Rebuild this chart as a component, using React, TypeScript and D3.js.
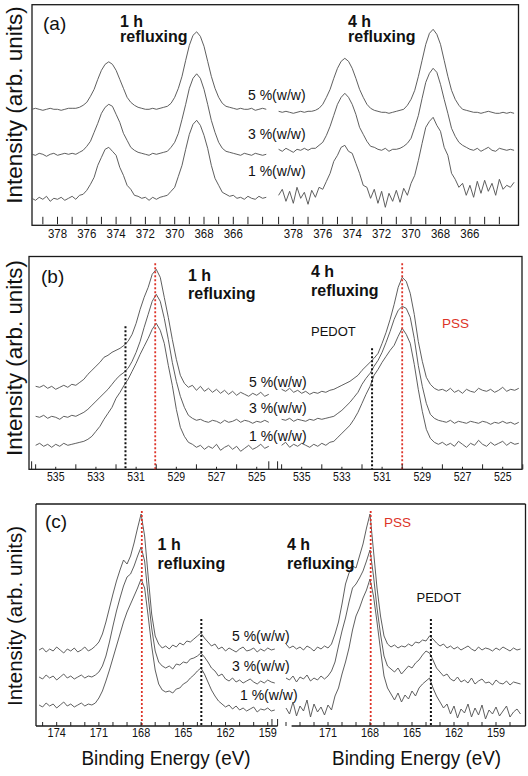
import React from "react";
import * as d3 from "d3";

// ================= DATA =================
// Panel (a): Ag 3d, intensity sampled every AG_STEP eV
const AG_STEP = 0.25;
const AG_1H_START = 379.75;
const AG_4H_START = 379.0;
const ag1h_5 = [116,117,116,115,116,117,116,116,115,116,117, 117,117,118,120,123,129,136,146,155,161,163.5,161,155,146,137,128,123,120,118,117,116, 116,117,116, 117,118,119,122,128,137,149,165,180,190,193.5,189,179,164,149,137,128,122,119,118,117, 116,117,116,116,117,115,116,117,116];
const ag1h_3 = [71,70,72,71,69,71,72,70,71,72,71, 72,71,73,75,79,84,93,102,112,118,121,119,111,103,92,85,78,75,73,72,71, 70,72,71, 72,73,74,78,83,92,106,121,137,147,151.5,147,136,121,105,93,83,77,74,73,72, 71,70,72,71,70,72,71,70,71];
const ag1h_1 = [27,25,28,26,29,24,27,26,28,25,27, 29,26,30,31,35,41,48,60,68,76,78,74,70,58,50,40,36,30,29,27,28, 25,28,26, 28,29,30,34,38,49,60,76,91,101,105,100,90,77,60,47,40,33,31,29,30, 27,28,26,29,27,26,29,27,28];
const ag4h_5 = [114,113,114,113,112,113,114,113, 114,114,115,117,121,128,136,147,157,164,167,164,157,147,136,128,121,117,115,114,113, 113,112,113, 114,115,116,120,126,135,149,165,181,192,196,191,181,165,149,135,126,120,116,115,114, 113,113,112,113,114,113,112,112,113,112,113,112];
const ag4h_3 = [76,74,77,75,73,76,75,77, 75,77,77,80,83,90,99,110,121,128,132,128,121,111,98,91,84,79,78,76,75, 77,74,76, 76,77,79,82,87,98,110,127,143,152,157,153,141,126,112,97,89,83,80,78,76, 75,77,74,76,78,75,74,77,76,75,76,75];
const ag4h_1 = [30,36,24,34,22,38,27,33, 21,35,28,38,36,44,52,64,70,78,80,74,72,62,52,40,38,27,36,22,34, 18,32,24, 35,23,37,30,42,50,65,82,98,104,108,100,94,78,70,52,46,38,42,30,40, 28,44,32,45,34,42,30,46,36,40,38,43];
const AG_TICKS = d3.range(364, 380);
const AG_TICK_LABELS = [378, 376, 374, 372, 370, 368, 366];

// Panel (b): O 1s
const O_STEP = 0.2;
const O_START = 536.0;
const o1h_5 = [83,82,84,81,83,80,82,84,82,85,84, 87,90,95,99,103,107,112,114,117,119, 121,124,128,135,146,160,172,182,195,200, 192,172,152,130,110,94,86,82,84,79, 83,78,81,77,80,76,79,75,78,74,77,75,73,76,74,77,73,75];
const o1h_3 = [53,52,54,51,53,52,50,53,52,54,53, 55,57,60,64,68,72,76,80,85,90, 94,97,101,108,117,128,142,155,168,175, 168,151,130,107,88,73,62,54,51,49, 50,48,47,49,48,46,49,47,48,50,47,49,48,46,48,47,49,47];
const o1h_1 = [24,26,23,25,22,25,23,26,24,25,26, 27,28,30,33,38,43,50,56,62,71, 77,84,90,98,106,115,123,131,140,146, 139,126,104,84,60,42,33,27,25,22, 24,20,23,21,25,19,22,24,20,23,18,21,24,20,22,25,21,23];
const o4h_5 = [80,78,81,77,79,76,78,75,77,76,78, 77,79,80,82,84,86,88,91,94,99, 103,107,111,116,126,137,150,165,182,192, 188,176,155,128,108,92,85,81,79,80, 78,81,77,79,76,80,78,77,81,79,78,80,77,79,82,78,80,79,81];
const o4h_3 = [50,49,51,48,50,49,48,50,49,51,50, 51,52,53,56,59,63,67,72,77,85, 91,96,103,109,117,127,138,150,159,163, 161,152,131,104,83,66,55,51,49,48, 47,49,46,48,47,46,48,47,46,48,47,45,47,46,48,46,47,45,47];
const o4h_1 = [24,27,22,25,23,26,24,22,25,23,26, 24,27,28,32,36,40,44,50,57,66, 75,83,94,100,107,113,119,124,133,141, 135,126,105,80,58,40,31,27,25,27, 24,26,23,28,25,22,26,24,29,25,23,27,24,26,28,24,27,25,26];
const O_TICKS_1H = d3.range(525, 537);
const O_TICKS_4H = d3.range(524, 537);
const O_TICK_LABELS = [535, 533, 531, 529, 527, 525];
const O_PSS = [530.05, 530.0];
const O_PSS_TOP = [206, 206];
const O_PEDOT = [531.53, 531.5];
const O_PEDOT_TOP = [143, 121];

// Panel (c): S 2p
const S_STEP = 0.25;
const S_1H_START = 175.25;
const S_4H_START = 174.0;
const s1h_5 = [76,78,74,77,75,79,76,73,77,75,78,74,76,79,75,77, 80,84,92,104,118,132,145,156,166,162,170,183,198,212,190,150,112,90,82,78, 80,77,81,79,83,81,85,84,87,90,93,88,84,80,82,77,79, 75,78,76,74,77,79,75,76,78,74,77,75,78,76,77];
const s1h_3 = [49,47,51,48,50,46,49,52,48,50,47,49,51,48,50,49, 51,54,60,70,84,100,115,128,140,149,152,160,170,179,165,130,98,75,64,60, 58,60,57,62,61,64,63,67,68,70,73,69,64,58,55,50,52, 47,45,48,44,46,43,45,47,44,42,45,43,46,44,43];
const s1h_1 = [21,19,23,20,22,18,21,24,20,22,19,21,23,20,22,21, 23,28,35,45,56,68,80,92,104,114,122,130,138,147,138,110,80,56,42,36, 34,35,33,37,38,42,44,48,51,55,58,52,44,36,30,25,22, 19,21,17,20,16,18,15,17,19,14,17,16,18,15,16];
const s4h_5 = [82,78,80,77,79,76,80,78,75,79,77,80, 78,82,92,104,122,142,153,160,158,170,182,198,212,175,138,110,90,82, 79,81,78,80,79,82,80,84,83,86,85,90,87,83,80,82,78, 80,77,79,76,78,80,77,75,79,76,78,77,75,78,76,79,77,75,78,76,77];
const s4h_3 = [48,46,50,44,49,47,51,45,48,46,50,47, 50,55,64,80,95,108,124,138,142,148,155,165,176,150,118,92,70,60, 57,54,58,52,56,60,58,63,66,71,75,73,66,58,54,50,52, 47,45,49,44,46,43,48,42,45,47,43,44,41,46,43,42,45,41,44,43,42];
const s4h_1 = [18,12,24,10,20,15,26,9,22,14,19,11, 21,16,30,38,52,64,78,96,110,118,128,136,147,130,104,76,50,38, 32,26,33,24,31,27,35,30,38,42,45,48,38,30,24,18,22, 12,20,8,17,13,22,9,18,11,21,7,16,12,19,10,15,20,9,14,17,12];
const S_TICKS_1H = d3.range(159, 176);
const S_TICKS_4H = d3.range(158, 175);
const S_TICK_LABELS_1H = [174, 171, 168, 165, 162, 159];
const S_TICK_LABELS_4H = [171, 168, 165, 162, 159];
const S_PSS = [167.95, 167.95];
const S_PSS_TOP = [215, 215];
const S_PEDOT = [163.72, 163.65];
const S_PEDOT_TOP = [107, 107];

const CONC_LABELS = ["5 %(w/w)", "3 %(w/w)", "1 %(w/w)"];
const TIME_LABELS = ["1 h", "4 h"];

// ================= RENDERING =================
const FONT = "Arial, 'Liberation Sans', Helvetica, sans-serif";
const CURVE = "#565656";
const RED = "#dd3328";

type Series = { start: number; step: number; values: number[] };
type Marker = { e: number; top: number };
type Half = {
  domain: [number, number];
  range: [number, number];
  series: Series[];
  ticks: number[];
  tickLen: (e: number) => number;
  labels: number[];
  pss?: Marker;
  pedot?: Marker;
};

function T(props: {
  x: number; y: number; size: number; sx?: number; anchor?: string;
  weight?: string | number; fill?: string; rotate?: number; children: React.ReactNode;
}) {
  const { x, y, size, sx = 1, anchor = "start", weight = "normal", fill = "#111", rotate = 0, children } = props;
  return (
    <text
      transform={`translate(${x},${y}) scale(${sx},1)${rotate ? ` rotate(${rotate})` : ""}`}
      fontSize={size}
      fontWeight={weight}
      textAnchor={anchor}
      fill={fill}
      fontFamily={FONT}
    >
      {children}
    </text>
  );
}

function HalfView({ h, y, bottom, labelY, labelSize, labelSx }: {
  h: Half; y: d3.ScaleLinear<number, number>; bottom: number; labelY: number; labelSize: number; labelSx: number;
}) {
  const x = d3.scaleLinear().domain(h.domain).range(h.range);
  const line = d3.line<[number, number]>().x((d) => x(d[0])).y((d) => y(d[1]));
  return (
    <g>
      {h.series.map((s, si) => (
        <path
          key={si}
          d={line(s.values.map((v, i) => [s.start - s.step * i, v] as [number, number])) || ""}
          fill="none"
          stroke={CURVE}
          strokeWidth={0.95}
          strokeLinejoin="round"
        />
      ))}
      {h.pedot && (
        <line x1={x(h.pedot.e)} x2={x(h.pedot.e)} y1={y(h.pedot.top)} y2={bottom}
          stroke="#111" strokeWidth={2} strokeDasharray="2,2" />
      )}
      {h.pss && (
        <line x1={x(h.pss.e)} x2={x(h.pss.e)} y1={y(h.pss.top)} y2={bottom}
          stroke={RED} strokeWidth={1.8} strokeDasharray="2,2" />
      )}
      {h.ticks.map((t) => (
        <line key={t} x1={x(t)} x2={x(t)} y1={bottom} y2={bottom - h.tickLen(t)} stroke="#222" strokeWidth={1} />
      ))}
      {h.labels.map((t) => (
        <T key={t} x={x(t)} y={labelY} size={labelSize} sx={labelSx} anchor="middle">{t}</T>
      ))}
    </g>
  );
}

export default function App() {
  // ----- panel (a)
  const A = { l: 32, t: 4.7, r: 518.5, b: 225.3 };
  const yA = d3.scaleLinear().domain([0, A.b - A.t]).range([A.b, A.t]);
  const aHalves: Half[] = [
    {
      domain: [380, 363], range: [28.2, 277.25],
      series: [ag1h_5, ag1h_3, ag1h_1].map((v) => ({ start: AG_1H_START, step: AG_STEP, values: v })),
      ticks: AG_TICKS, tickLen: () => 7.5, labels: AG_TICK_LABELS,
    },
    {
      domain: [379, 362.7], range: [278.6, 518.5],
      series: [ag4h_5, ag4h_3, ag4h_1].map((v) => ({ start: AG_4H_START, step: AG_STEP, values: v })),
      ticks: AG_TICKS, tickLen: () => 7.5, labels: AG_TICK_LABELS,
    },
  ];

  // ----- panel (b)
  const B = { l: 29, t: 256.5, r: 522, b: 469.3 };
  const yB = d3.scaleLinear().domain([0, B.b - B.t]).range([B.b, B.t]);
  const oLen = (e: number) => (e % 2 === 0 ? 5 : 2.5);
  const bHalves: Half[] = [
    {
      domain: [536.3, 524.3], range: [29.6, 270.8],
      series: [o1h_5, o1h_3, o1h_1].map((v) => ({ start: O_START, step: O_STEP, values: v })),
      ticks: O_TICKS_1H, tickLen: oLen, labels: O_TICK_LABELS,
      pss: { e: O_PSS[0], top: O_PSS_TOP[0] }, pedot: { e: O_PEDOT[0], top: O_PEDOT_TOP[0] },
    },
    {
      domain: [536.1, 523.9], range: [279.6, 524.8],
      series: [o4h_5, o4h_3, o4h_1].map((v) => ({ start: O_START, step: O_STEP, values: v })),
      ticks: O_TICKS_4H, tickLen: oLen, labels: O_TICK_LABELS,
      pss: { e: O_PSS[1], top: O_PSS_TOP[1] }, pedot: { e: O_PEDOT[1], top: O_PEDOT_TOP[1] },
    },
  ];
  const xB1 = d3.scaleLinear().domain(bHalves[0].domain).range(bHalves[0].range);
  const xB2 = d3.scaleLinear().domain(bHalves[1].domain).range(bHalves[1].range);

  // ----- panel (c)
  const C = { l: 36, t: 504, r: 525.5, b: 726 };
  const yC = d3.scaleLinear().domain([0, C.b - C.t]).range([C.b, C.t]);
  const cHalves: Half[] = [
    {
      domain: [175.47, 158.2], range: [36, 279],
      series: [s1h_5, s1h_3, s1h_1].map((v) => ({ start: S_1H_START, step: S_STEP, values: v })),
      ticks: S_TICKS_1H, tickLen: () => 4, labels: S_TICK_LABELS_1H,
      pss: { e: S_PSS[0], top: S_PSS_TOP[0] }, pedot: { e: S_PEDOT[0], top: S_PEDOT_TOP[0] },
    },
    {
      domain: [174.6, 157.0], range: [277.6, 524],
      series: [s4h_5, s4h_3, s4h_1].map((v) => ({ start: S_4H_START, step: S_STEP, values: v })),
      ticks: S_TICKS_4H, tickLen: () => 4, labels: S_TICK_LABELS_4H,
      pss: { e: S_PSS[1], top: S_PSS_TOP[1] }, pedot: { e: S_PEDOT[1], top: S_PEDOT_TOP[1] },
    },
  ];
  const xC1 = d3.scaleLinear().domain(cHalves[0].domain).range(cHalves[0].range);
  const xC2 = d3.scaleLinear().domain(cHalves[1].domain).range(cHalves[1].range);

  const frameStroke = "#1a1a1a";

  return (
    <svg width={528} height={776} style={{ position: "absolute", left: 0, top: 0, background: "#fff" }}>
      <rect x={0} y={0} width={528} height={776} fill="#fff" />

      {/* ---------- (a) ---------- */}
      <rect x={A.l} y={A.t} width={A.r - A.l} height={A.b - A.t} fill="none" stroke={frameStroke} strokeWidth={1.3} />
      {aHalves.map((h, i) => (
        <HalfView key={i} h={h} y={yA} bottom={A.b - 1} labelY={238} labelSize={13.5} labelSx={0.85} />
      ))}
      <T x={43} y={29.5} size={19}>(a)</T>
      <T x={120} y={26.5} size={16} weight="bold">{TIME_LABELS[0]}</T>
      <T x={120} y={42} size={16} weight="bold">refluxing</T>
      <T x={348} y={26.5} size={16} weight="bold">{TIME_LABELS[1]}</T>
      <T x={348} y={42} size={16} weight="bold">refluxing</T>
      <T x={248} y={100} size={14}>{CONC_LABELS[0]}</T>
      <T x={248} y={138.5} size={14}>{CONC_LABELS[1]}</T>
      <T x={248} y={176} size={14}>{CONC_LABELS[2]}</T>
      <T x={21.7} y={105} size={22.5} anchor="middle" rotate={-90}>Intensity (arb. units)</T>

      {/* ---------- (b) ---------- */}
      <rect x={B.l} y={B.t} width={B.r - B.l} height={B.b - B.t} fill="none" stroke={frameStroke} strokeWidth={1.3} />
      {bHalves.map((h, i) => (
        <HalfView key={i} h={h} y={yB} bottom={B.b} labelY={480.5} labelSize={12} labelSx={0.88} />
      ))}
      {[xB1(536.2), xB1(524.4), xB2(536.2)].map((xx, i) => (
        <line key={i} x1={xx} x2={xx} y1={B.b} y2={B.b - 8} stroke="#222" strokeWidth={1} />
      ))}
      <T x={41} y={283} size={19}>(b)</T>
      <T x={188} y={280.5} size={16} weight="bold">{TIME_LABELS[0]}</T>
      <T x={188} y={299} size={16} weight="bold">refluxing</T>
      <T x={311} y={277} size={16} weight="bold">{TIME_LABELS[1]}</T>
      <T x={311} y={295.8} size={16} weight="bold">refluxing</T>
      <T x={311} y={336.4} size={13}>PEDOT</T>
      <T x={442} y={328} size={13.5} fill={RED}>PSS</T>
      <T x={249} y={387.3} size={14}>{CONC_LABELS[0]}</T>
      <T x={249} y={413.4} size={14}>{CONC_LABELS[1]}</T>
      <T x={249} y={440.5} size={14}>{CONC_LABELS[2]}</T>
      <T x={21.7} y={358} size={22.3} anchor="middle" rotate={-90}>Intensity (arb. units)</T>

      {/* ---------- (c) ---------- */}
      <line x1={C.l} x2={C.l} y1={C.t} y2={C.b} stroke={frameStroke} strokeWidth={1.3} />
      <line x1={C.l} x2={C.r} y1={C.t} y2={C.t} stroke={frameStroke} strokeWidth={1.3} />
      <line x1={C.r} x2={C.r} y1={C.t} y2={C.b} stroke={frameStroke} strokeWidth={1.3} />
      <line x1={C.l} x2={xC1(158.3)} y1={C.b} y2={C.b} stroke={frameStroke} strokeWidth={1.3} />
      <line x1={xC2(173.6)} x2={C.r} y1={C.b} y2={C.b} stroke={frameStroke} strokeWidth={1.3} />
      {cHalves.map((h, i) => (
        <HalfView key={i} h={h} y={yC} bottom={C.b} labelY={736.5} labelSize={12.5} labelSx={0.87} />
      ))}
      {[xC1(158.7), xC1(158.3)].map((xx, i) => (
        <line key={i} x1={xx} x2={xx} y1={C.b} y2={C.b - 7} stroke="#222" strokeWidth={1} />
      ))}
      <T x={45} y={528} size={19}>(c)</T>
      <T x={157.6} y={550} size={16} weight="bold">{TIME_LABELS[0]}</T>
      <T x={157.6} y={569} size={16} weight="bold">refluxing</T>
      <T x={287} y={550} size={16} weight="bold">{TIME_LABELS[1]}</T>
      <T x={287} y={569} size={16} weight="bold">refluxing</T>
      <T x={384} y={527} size={13.5} fill={RED}>PSS</T>
      <T x={416.5} y={601.8} size={13}>PEDOT</T>
      <T x={232} y={640.5} size={14}>{CONC_LABELS[0]}</T>
      <T x={232} y={670.5} size={14}>{CONC_LABELS[1]}</T>
      <T x={240} y={700} size={14}>{CONC_LABELS[2]}</T>
      <T x={21.7} y={616} size={20.5} anchor="middle" rotate={-90}>Intensity (arb. units)</T>
      <T x={166} y={765} size={21} sx={0.9} anchor="middle">Binding Energy (eV)</T>
      <T x={416.6} y={765} size={21} sx={0.9} anchor="middle">Binding Energy (eV)</T>
    </svg>
  );
}
